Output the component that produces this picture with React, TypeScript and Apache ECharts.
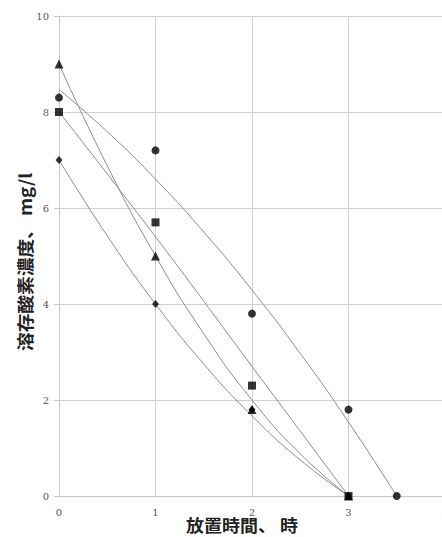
import React, { useEffect, useRef } from "react";
import * as echarts from "echarts";

const xTicks = [0, 1, 2, 3, 4];
const yTicks = [0, 2, 4, 6, 8, 10];

// measured points
const circlePts = [[0, 8.3], [1, 7.2], [2, 3.8], [3, 1.8], [3.5, 0]];
const squarePts = [[0, 8.0], [1, 5.7], [2, 2.3], [3, 0]];
const trianglePts = [[0, 9.0], [1, 5.0], [2, 1.8], [3, 0]];
const diamondPts = [[0, 7.0], [1, 4.0], [2, 1.8], [3, 0]];

// trend curves
const circleCurve = [[0, 8.47], [0.5, 7.59], [1, 6.6], [1.5, 5.5], [2, 4.29], [2.5, 2.97], [3, 1.54], [3.5, 0]];
const squareCurve = [[0, 8.0], [1, 5.4], [2, 2.7], [3, 0]];
const triangleCurve = [[0, 9.0], [0.5, 6.88], [1, 5.0], [1.5, 3.38], [2, 2.0], [2.5, 0.88], [3, 0]];
const diamondCurve = [[0, 7.0], [0.5, 5.42], [1, 4.0], [1.5, 2.75], [2, 1.67], [2.5, 0.75], [3, 0]];

const xName = "放置時間、 時";
const yName = "溶存酸素濃度、 mg/l";

export default function App() {
  const ref = useRef<HTMLDivElement>(null);
  useEffect(() => {
    const chart = echarts.init(ref.current!, null, { renderer: "svg" });
    const curveStyle = { color: "#8c8c8c", width: 1 };
    const lineSeries = (data: number[][]) => ({
      type: "line",
      data,
      smooth: true,
      showSymbol: false,
      symbol: "none",
      lineStyle: curveStyle,
      silent: true,
      z: 2,
    });
    const scatter = (data: number[][], symbol: string, size: any) => ({
      type: "scatter",
      data,
      symbol,
      symbolSize: size,
      itemStyle: { color: "#000" },
      z: 3,
    });
    chart.setOption({
      animation: false,
      backgroundColor: "#fff",
      grid: { left: 59, top: 16, width: 386, height: 480, outerBoundsMode: "none", containLabel: false },
      xAxis: {
        type: "value",
        min: xTicks[0],
        max: xTicks[xTicks.length - 1],
        interval: 1,
        axisLine: { show: true, lineStyle: { color: "#c8c8c8", width: 1 } },
        axisTick: { show: false },
        axisLabel: { color: "#555", fontSize: 10, fontFamily: "DejaVu Serif", margin: 11 },
        splitLine: { show: true, lineStyle: { color: "#d0d0d0", width: 1 } },
      },
      yAxis: {
        type: "value",
        min: yTicks[0],
        max: yTicks[yTicks.length - 1],
        interval: 2,
        axisLine: { show: true, lineStyle: { color: "#c8c8c8", width: 1 } },
        axisTick: { show: true, length: 5, lineStyle: { color: "#c8c8c8" } },
        axisLabel: { color: "#555", fontSize: 10, fontFamily: "DejaVu Serif", margin: 10 },
        splitLine: { show: true, lineStyle: { color: "#d0d0d0", width: 1 } },
      },
      graphic: [
        {
          type: "text",
          x: 242,
          y: 525,
          scaleX: 1.06,
          style: {
            text: xName,
            fill: "#222",
            fontSize: 17,
            fontWeight: "bold",
            fontFamily: "Noto Sans CJK JP",
            align: "center",
            verticalAlign: "middle",
          },
        },
        {
          type: "text",
          x: 24,
          y: 262,
          rotation: Math.PI / 2,
          scaleX: 1.1,
          style: {
            text: yName,
            fill: "#222",
            fontSize: 17,
            fontWeight: "bold",
            fontFamily: "Noto Sans CJK JP",
            align: "center",
            verticalAlign: "middle",
          },
        },
      ],
      series: [
        lineSeries(circleCurve),
        lineSeries(squareCurve),
        lineSeries(triangleCurve),
        lineSeries(diamondCurve),
        scatter(circlePts, "circle", 8),
        scatter(squarePts, "rect", 8),
        scatter(trianglePts, "triangle", 9),
        scatter(diamondPts, "diamond", [7, 8]),
      ],
    });
    return () => chart.dispose();
  }, []);
  return <div ref={ref} style={{ width: 442, height: 537, position: "absolute", left: 0, top: 0 }} />;
}
